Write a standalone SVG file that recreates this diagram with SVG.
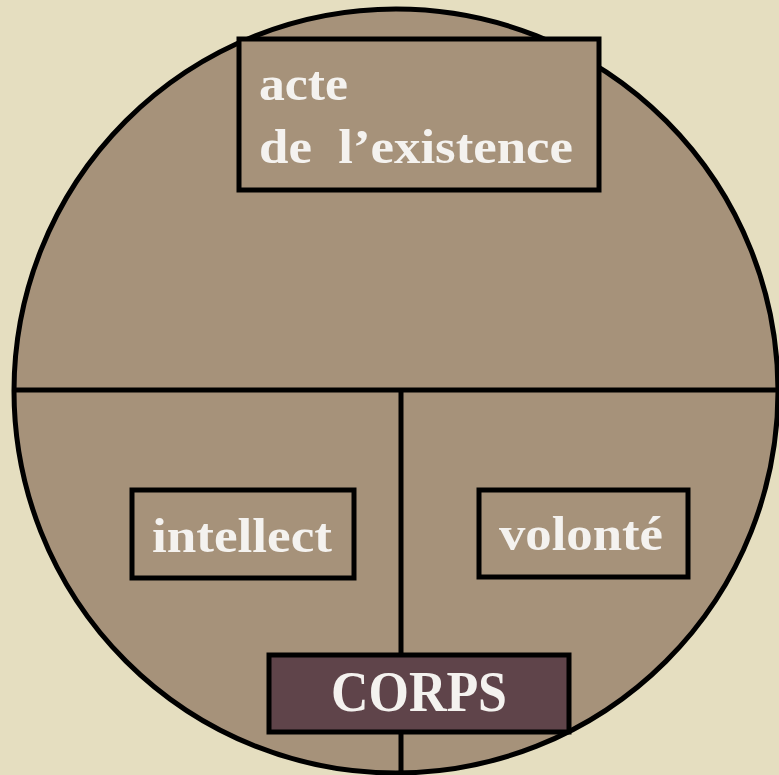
<svg xmlns="http://www.w3.org/2000/svg" width="779" height="775" viewBox="0 0 779 775">
<style>
.box{fill:#a6927a;stroke:#000;stroke-width:5}
.dark{fill:#5f444a;stroke:#000;stroke-width:5}
.ln{stroke:#000;stroke-width:5;fill:none}
.t{font-family:"Liberation Serif","Times New Roman",serif;font-weight:bold;fill:#f4f2ef}
</style>
<rect x="0" y="0" width="779" height="775" fill="#e5dec0"/>
<g id="circle">
<circle cx="396" cy="391" r="382" fill="#a6927a" stroke="#000" stroke-width="5"/>
</g>
<g id="connectors">
<line class="ln" x1="14" y1="390" x2="778" y2="390"/>
<line class="ln" x1="401" y1="388" x2="401" y2="775"/>
</g>
<g id="acte">
<rect class="box" x="239" y="39" width="360" height="151"/>
<text class="t" x="259" y="100" font-size="48" textLength="89" lengthAdjust="spacingAndGlyphs">acte</text>
<text class="t" x="259" y="163" font-size="48" textLength="314" lengthAdjust="spacingAndGlyphs" xml:space="preserve">de  l’existence</text>
</g>
<g id="intellect">
<rect class="box" x="132" y="490" width="222" height="88"/>
<text class="t" x="152" y="552" font-size="49" textLength="180" lengthAdjust="spacingAndGlyphs">intellect</text>
</g>
<g id="volonte">
<rect class="box" x="479" y="490" width="209" height="87"/>
<text class="t" x="499" y="550" font-size="49" textLength="164" lengthAdjust="spacingAndGlyphs">volonté</text>
</g>
<g id="corps">
<rect class="dark" x="269" y="655" width="300" height="77"/>
<text class="t" x="331" y="711" font-size="56" textLength="176" lengthAdjust="spacingAndGlyphs">CORPS</text>
</g>
</svg>
